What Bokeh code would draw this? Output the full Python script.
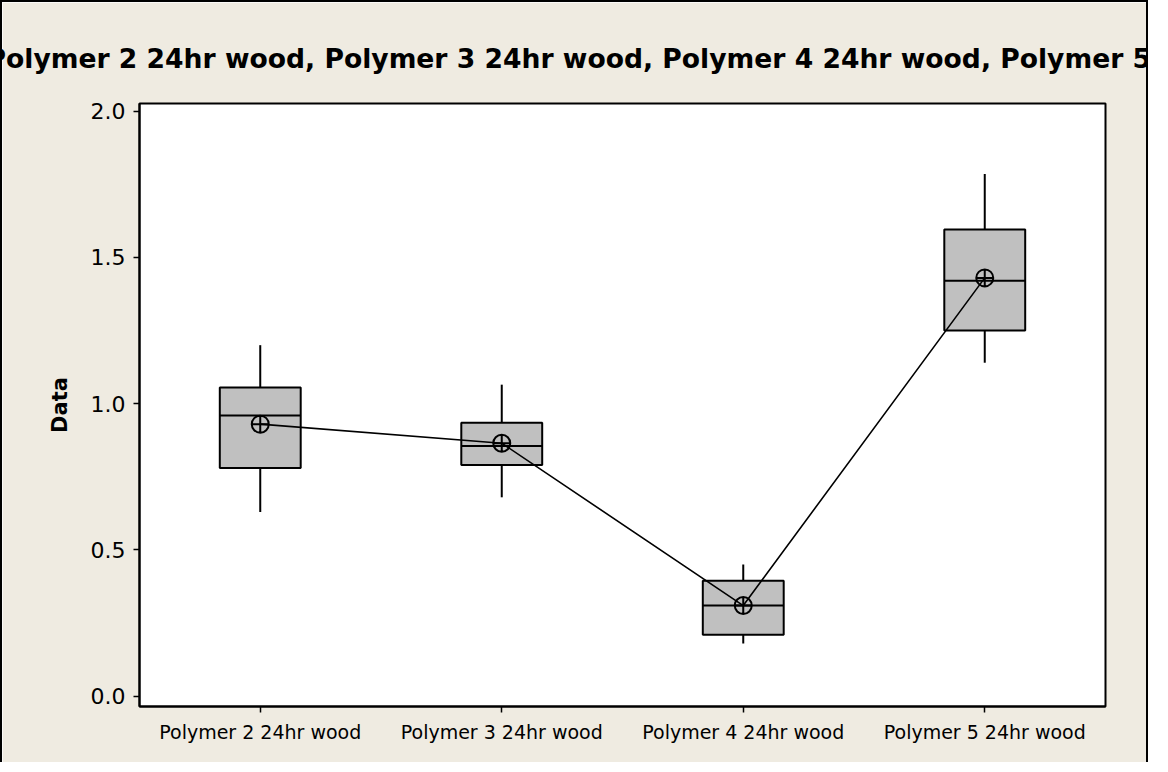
from bokeh.plotting import figure
from bokeh.models import FactorRange, Range1d, ColumnDataSource, FixedTicker, PrintfTickFormatter
from bokeh.transform import dodge
from bokeh.embed import file_html
from bokeh.resources import INLINE

# ---- data ----
cats = ["Polymer 2 24hr wood", "Polymer 3 24hr wood", "Polymer 4 24hr wood", "Polymer 5 24hr wood"]
whisker_low = [0.63, 0.68, 0.18, 1.14]
q1 = [0.78, 0.79, 0.21, 1.25]
median = [0.96, 0.855, 0.31, 1.42]
q3 = [1.055, 0.935, 0.395, 1.595]
whisker_high = [1.20, 1.065, 0.45, 1.785]
mean = [0.93, 0.865, 0.31, 1.43]
y_ticks = [0.0, 0.5, 1.0, 1.5, 2.0]
title_text = "Polymer 2 24hr wood, Polymer 3 24hr wood, Polymer 4 24hr wood, Polymer 5 24hr wood"

BG = "#EFEBE1"
FONT = "DejaVu Sans"

src = ColumnDataSource(dict(cats=cats, lo=whisker_low, q1=q1, med=median,
                            q3=q3, hi=whisker_high, mean=mean))

p = figure(x_range=FactorRange(*cats), y_range=Range1d(-0.035, 2.026),
           width=1148, height=762, output_backend="svg", toolbar_location=None,
           min_border_left=137, min_border_right=45, min_border_top=101,
           min_border_bottom=58)

p.styles = {"border-left": "2px solid black", "border-top": "2px solid black",
            "border-right": "2px solid black"}

p.background_fill_color = "white"
p.border_fill_color = BG
p.outline_line_color = "black"
p.outline_line_width = 2
p.xgrid.visible = False
p.ygrid.visible = False

# title (overflowing both sides, as in the reference)
p.title.text = title_text
p.title.align = "left"
p.title.offset = -153
p.title.text_font = FONT
p.title.text_font_size = "26.6px"
p.title.text_font_style = "bold"
p.title.text_color = "black"
p.title.standoff = 60

# axes
p.yaxis.ticker = FixedTicker(ticks=y_ticks)
p.yaxis.formatter = PrintfTickFormatter(format="%.1f")
for ax in (p.xaxis, p.yaxis):
    ax.axis_line_color = "black"
    ax.axis_line_width = 2
    ax.major_tick_line_color = "black"
    ax.major_tick_line_width = 1.5
    ax.major_tick_out = 6
    ax.major_tick_in = 0
    ax.minor_tick_line_color = None
    ax.major_label_text_font = FONT
    ax.major_label_text_color = "black"
p.yaxis.major_label_text_font_size = "22px"
p.yaxis.major_label_standoff = 8
p.xaxis.major_label_text_font_size = "19px"
p.xaxis.major_label_standoff = 8
p.yaxis.axis_label = "Data"
p.yaxis.axis_label_text_font = FONT
p.yaxis.axis_label_text_font_size = "21px"
p.yaxis.axis_label_text_font_style = "bold"
p.yaxis.axis_label_standoff = 16
p.yaxis.axis_label_text_color = "black"

BW = 0.335
LW = 2

# whiskers
p.segment(x0="cats", y0="q3", x1="cats", y1="hi", source=src, line_color="black", line_width=LW)
p.segment(x0="cats", y0="lo", x1="cats", y1="q1", source=src, line_color="black", line_width=LW)
# boxes
p.vbar(x="cats", width=BW, bottom="q1", top="q3", source=src,
       fill_color="#C0C0C0", line_color="black", line_width=LW)
# medians
p.segment(x0=dodge("cats", -BW / 2, range=p.x_range), y0="med",
          x1=dodge("cats", BW / 2, range=p.x_range), y1="med",
          source=src, line_color="black", line_width=LW)
# mean connect line
p.line(x="cats", y="mean", source=src, line_color="black", line_width=1.6)
# mean symbols
p.scatter(x="cats", y="mean", source=src, marker="circle_cross", size=17,
          fill_color=None, line_color="black", line_width=LW)

open("out.html", "w").write(file_html(p, INLINE))
